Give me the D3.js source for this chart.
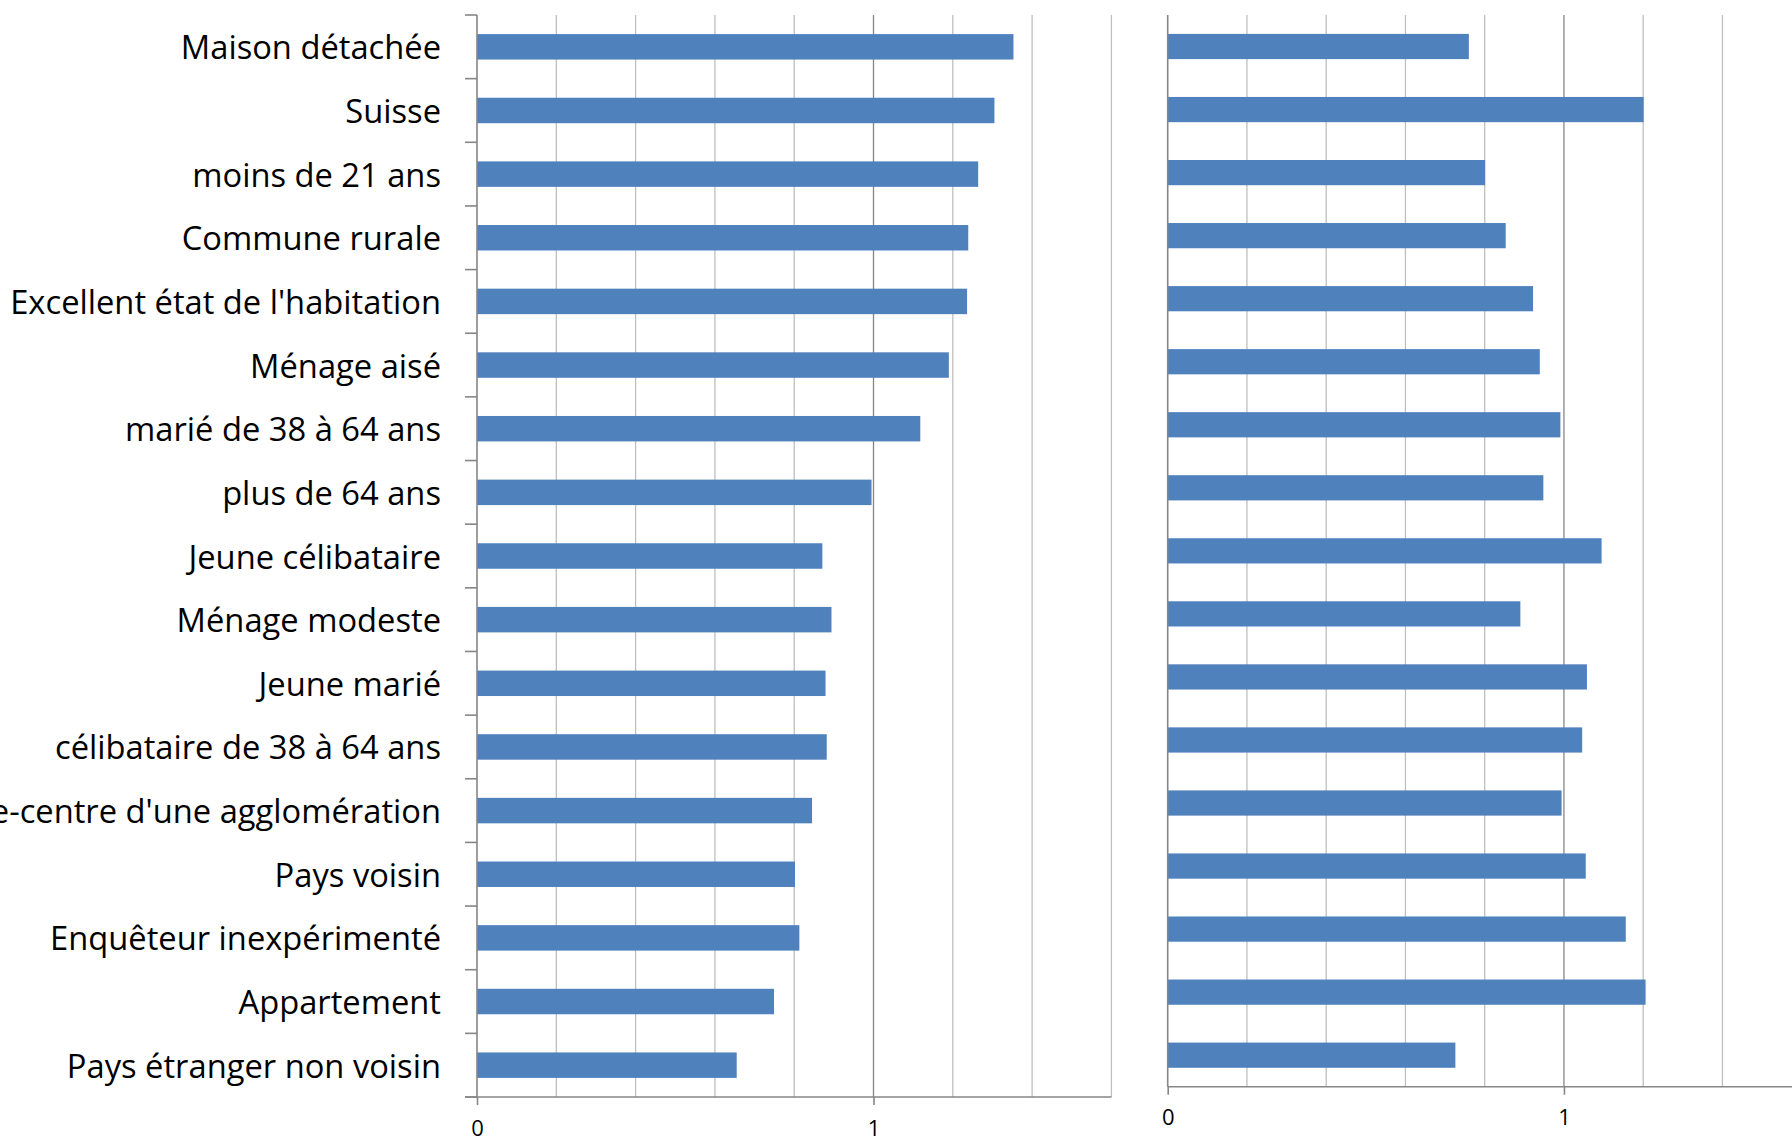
<!DOCTYPE html>
<html>
<head>
<meta charset="utf-8">
<script src="https://cdn.jsdelivr.net/npm/d3@7"></script>
<style>
  html, body { margin: 0; padding: 0; background: #fff; }
  svg { display: block; }
</style>
</head>
<body>
<svg id="chart" width="1792" height="1142"></svg>
<script>
const categories = [
  "Maison détachée",
  "Suisse",
  "moins de 21 ans",
  "Commune rurale",
  "Excellent état de l'habitation",
  "Ménage aisé",
  "marié de 38 à 64 ans",
  "plus de 64 ans",
  "Jeune célibataire",
  "Ménage modeste",
  "Jeune marié",
  "célibataire de 38 à 64 ans",
  "Ville-centre d'une agglomération",
  "Pays voisin",
  "Enquêteur inexpérimenté",
  "Appartement",
  "Pays étranger non voisin"
];
const leftValues = [1.353, 1.305, 1.264, 1.239, 1.236, 1.190, 1.118, 0.995,
                    0.871, 0.894, 0.879, 0.882, 0.845, 0.802, 0.813, 0.749, 0.655];
const rightValues = [0.760, 1.201, 0.801, 0.853, 0.922, 0.939, 0.991, 0.948,
                     1.095, 0.890, 1.058, 1.046, 0.994, 1.055, 1.156, 1.206, 0.726];
const xTickValues = [0, 1];
const xTickLabels = ["0", "1"];
const xDomain = [0, 1.6];
const gridStep = 0.2;

const svg = d3.select("#chart");
const BAR = "#4f81bd";
const AXIS = "#868686";
const GRID = "#bfbfbf";
const FONT = "'Open Sans', Lato, sans-serif";

function panel(values, x0, x1, y0, y1, withCatTicks, withLabels, rightBorder) {
  const g = svg.append("g");
  const x = d3.scaleLinear().domain(xDomain).range([x0, x1]);
  const y = d3.scaleBand().domain(categories).range([y0, y1]).paddingInner(0).paddingOuter(0);
  const grid = d3.range(xDomain[0] + gridStep, xDomain[1] + 1e-9, gridStep);

  g.selectAll("line.grid").data(grid).join("line")
    .attr("x1", d => x(d)).attr("x2", d => x(d))
    .attr("y1", y0).attr("y2", y1)
    .attr("stroke", d => Math.abs(d - 1) < 1e-6 ? AXIS : GRID)
    .attr("stroke-width", 1.3)
    .attr("visibility", d => (Math.abs(d - xDomain[1]) < 1e-6 && !rightBorder) ? "hidden" : "visible");

  const bh = y.bandwidth() * 0.4;
  g.selectAll("rect.bar").data(values).join("rect")
    .attr("x", x(0))
    .attr("y", (d, i) => y(categories[i]) + (y.bandwidth() - bh) / 2)
    .attr("width", d => x(d) - x(0))
    .attr("height", bh)
    .attr("fill", BAR);

  g.append("line").attr("x1", x(0)).attr("x2", x(0)).attr("y1", y0).attr("y2", y1)
    .attr("stroke", AXIS).attr("stroke-width", 1.6);

  if (withCatTicks) {
    const bounds = categories.map(c => y(c)).concat([y1]);
    g.selectAll("line.ct").data(bounds).join("line")
      .attr("x1", x(0) - 12).attr("x2", x(0))
      .attr("y1", d => d).attr("y2", d => d)
      .attr("stroke", AXIS).attr("stroke-width", 1.6);
  }

  if (withLabels) {
    const labels = g.selectAll("text.cat").data(categories).join("text")
      .attr("x", x(0) - 36)
      .attr("y", c => y(c) + y.bandwidth() / 2)
      .attr("text-anchor", "end")
      .attr("dominant-baseline", "central")
      .attr("font-family", FONT)
      .attr("font-size", 30)
      .attr("fill", "#000")
      .text(c => c);
    const refNode = labels.filter(c => c === "Excellent état de l'habitation").node();
    const w = refNode.getComputedTextLength();
    const fs = 30 * 431 / w;
    labels.attr("font-size", fs);
  }

  const ax = d3.axisBottom(x).tickValues(xTickValues)
    .tickFormat((d, i) => xTickLabels[i]).tickSize(8).tickPadding(15);
  const axg = g.append("g").attr("transform", `translate(0,${y1})`).call(ax);
  axg.select(".domain").attr("stroke", AXIS).attr("stroke-width", 1.6)
     .attr("d", `M${withCatTicks ? x(0) - 12 : x(0)},0H${x1}`);
  axg.selectAll(".tick line").attr("stroke", AXIS).attr("stroke-width", 1.6);
  axg.selectAll(".tick text")
    .attr("font-family", FONT)
    .attr("font-size", 22).attr("fill", "#000");
  return g;
}

panel(leftValues, 477, 1111.4, 15, 1097, true, true, true);
panel(rightValues, 1167.7, 1801.7, 15, 1086.7, false, false, false);
</script>
</body>
</html>
